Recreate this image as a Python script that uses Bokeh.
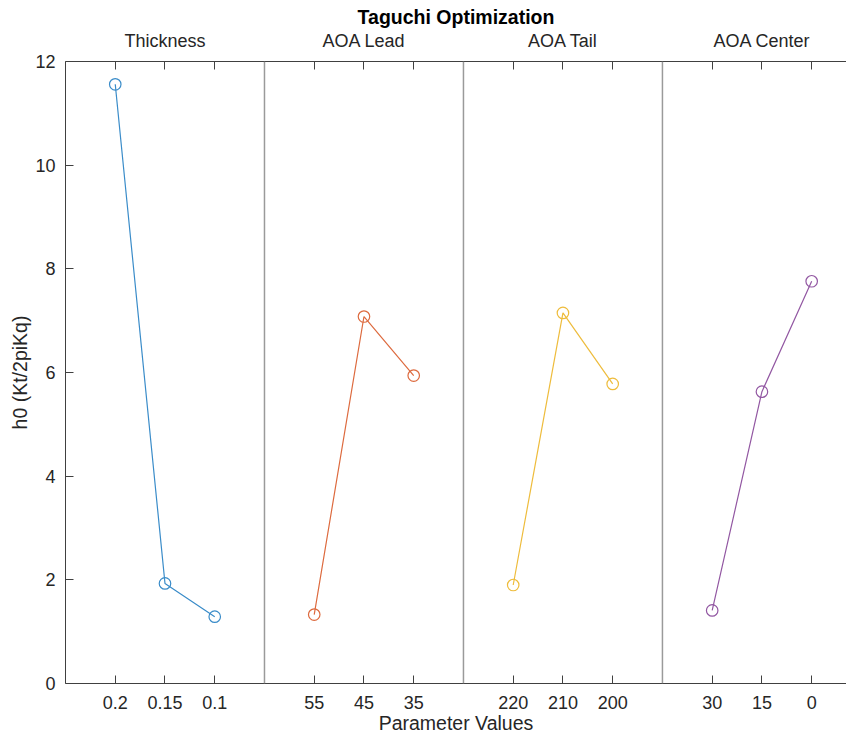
from bokeh.plotting import figure
from bokeh.models import Range1d, FixedTicker, LinearAxis, Span
from bokeh.embed import file_html
from bokeh.resources import INLINE

# ---- data ----
groups = ["Thickness", "AOA Lead", "AOA Tail", "AOA Center"]
thickness_levels = ["0.2", "0.15", "0.1"]
lead_levels = ["55", "45", "35"]
tail_levels = ["220", "210", "200"]
center_levels = ["30", "15", "0"]
thickness_h0 = [11.56, 1.93, 1.29]
lead_h0 = [1.33, 7.08, 5.94]
tail_h0 = [1.90, 7.15, 5.78]
center_h0 = [1.41, 5.63, 7.76]
y_ticks = [0, 2, 4, 6, 8, 10, 12]

levels = [thickness_levels, lead_levels, tail_levels, center_levels]
values = [thickness_h0, lead_h0, tail_h0, center_h0]
colors = ["#3a8cc9", "#dd6a3e", "#eebc3c", "#9257a2"]

FONT = "Liberation Sans"
TXT = "#262626"
AX = "#404040"

p = figure(width=846, height=736, output_backend="svg", toolbar_location=None,
           x_range=Range1d(0, 15.70), y_range=Range1d(0, 12),
           min_border_left=65, min_border_right=0, min_border_top=61,
           min_border_bottom=51)
p.outline_line_color = None
p.grid.visible = False
p.background_fill_color = "white"

p.title.text = "Taguchi Optimization"
p.title.align = "center"
p.title.text_font = FONT
p.title.text_font_size = "19.5px"
p.title.text_font_style = "bold"
p.title.text_color = "black"
p.title.standoff = 0

tick_pos = []
overrides = {}
top_over = {}
for g, (labs, vals, col) in enumerate(zip(levels, values, colors)):
    xs = [4 * g + 1 + i for i in range(len(vals))]
    for x, lab in zip(xs, labs):
        tick_pos.append(x)
        overrides[x] = lab
        top_over[x] = ""
    top_over[4 * g + 2] = groups[g]
    p.line(xs, vals, line_color=col, line_width=1.2)
    p.scatter(xs, vals, marker="circle", size=11.5, fill_color=None,
              line_color=col, line_width=1.2)
    if g > 0:
        p.add_layout(Span(location=4 * g, dimension="height",
                          line_color="#9a9a9a", line_width=1.5))

# bottom axis
xa = p.xaxis[0]
xa.ticker = FixedTicker(ticks=tick_pos)
xa.major_label_overrides = overrides
xa.minor_tick_line_color = None
xa.major_tick_in = 8
xa.major_tick_out = 0
xa.major_label_standoff = 12
xa.major_label_text_font = FONT
xa.major_label_text_font_size = "18px"
xa.major_label_text_color = TXT
xa.axis_label = "Parameter Values"
xa.axis_label_text_font = FONT
xa.axis_label_text_font_size = "19.5px"
xa.axis_label_text_font_style = "normal"
xa.axis_label_text_color = TXT
xa.axis_label_standoff = 0
xa.axis_line_color = AX
xa.major_tick_line_color = AX

# left axis
ya = p.yaxis[0]
ya.ticker = FixedTicker(ticks=y_ticks)
ya.minor_tick_line_color = None
ya.major_tick_in = 8
ya.major_tick_out = 0
ya.major_label_standoff = 10
ya.major_label_text_font = FONT
ya.major_label_text_font_size = "18px"
ya.major_label_text_color = TXT
ya.axis_label = "h0 (Kt/2piKq)"
ya.axis_label_text_font = FONT
ya.axis_label_text_font_size = "19.5px"
ya.axis_label_text_font_style = "normal"
ya.axis_label_text_color = TXT
ya.axis_label_standoff = 1
ya.axis_line_color = AX
ya.major_tick_line_color = AX

# top axis: box ticks + group names
ta = LinearAxis(ticker=FixedTicker(ticks=tick_pos),
                major_label_overrides=top_over)
ta.minor_tick_line_color = None
ta.major_tick_in = 8
ta.major_tick_out = 0
ta.major_label_standoff = 11
ta.major_label_text_font = FONT
ta.major_label_text_font_size = "18px"
ta.major_label_text_color = TXT
ta.axis_line_color = AX
ta.major_tick_line_color = AX
p.add_layout(ta, "above")

open("out.html", "w").write(file_html(p, INLINE))
